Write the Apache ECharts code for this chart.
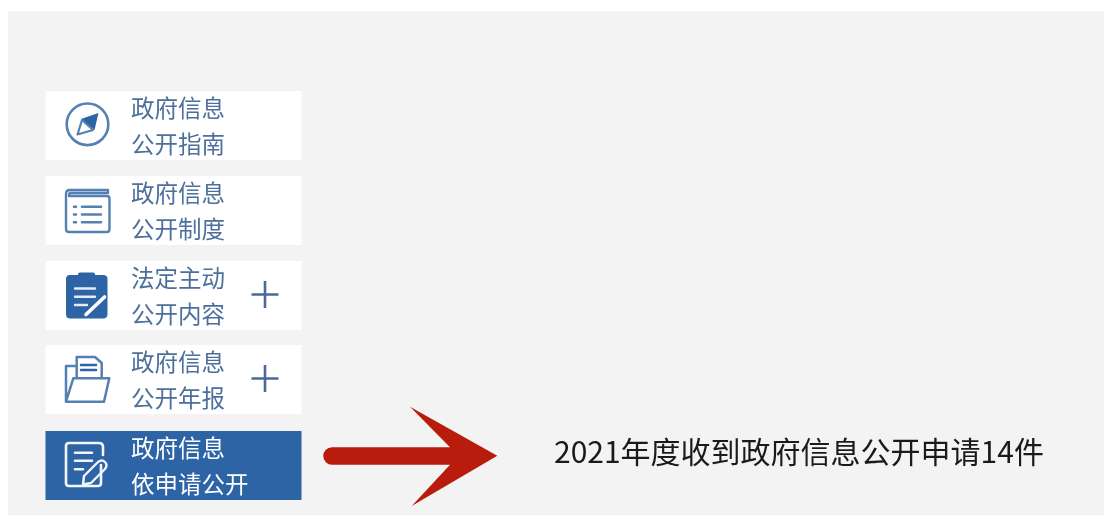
<!DOCTYPE html>
<html><head><meta charset="utf-8">
<style>html,body{margin:0;padding:0;background:#fff}#c{width:1104px;height:515px}</style>
<script src="https://cdn.jsdelivr.net/npm/echarts@6/dist/echarts.min.js"></script>
</head><body><div id="c"></div>
<script>
const line1 = ['政府信息','政府信息','法定主动','政府信息','政府信息'];
const line2 = ['公开指南','公开制度','公开内容','公开年报','依申请公开'];
const expandable = [false,false,true,true,false];
const activeIndex = 4;
const note = '2021年度收到政府信息公开申请14件';

const rowTops = [91,176,261,345,431];
const BLUE='#2c64a6', ICON='#5580b2', TXT='#4d6f9c', FONT='"Noto Sans CJK SC","Noto Sans",sans-serif';
const g=[];
let pathCount=0;
const st=(c,w)=>({fill:null,stroke:c,lineWidth:w||2,lineCap:'round',lineJoin:'round'});
const fl=c=>({fill:c,stroke:null});
const P=(d,style)=>{
  const name='sketchPath'+(pathCount++);
  echarts.graphic.registerShape(name,echarts.graphic.extendPath(d,{}));
  g.push({type:name,style});
};
g.push({type:'rect',shape:{x:8,y:11,width:1096,height:504},style:{fill:'#f3f3f3'}});
rowTops.forEach((t,i)=>{
  const on=i===activeIndex;
  g.push({type:'rect',shape:{x:45.5,y:t,width:256,height:69},style:{fill:on?BLUE:'#fff'}});
  g.push({type:'text',x:131,y:t+17.4,style:{text:line1[i],font:'23.5px '+FONT,fill:on?'#fff':TXT,textVerticalAlign:'middle'}});
  g.push({type:'text',x:131,y:t+52.6,style:{text:line2[i],font:'23.5px '+FONT,fill:on?'#fff':TXT,textVerticalAlign:'middle'}});
  if(expandable[i]){
    const cy=t+33.5;
    P(`M251.5 ${cy}H278.5M265 ${cy-13.5}V${cy+13.5}`,{fill:null,stroke:'#4a6a98',lineWidth:2.6});
  }
});
// compass
g.push({type:'circle',shape:{cx:87.5,cy:124.3,r:20.8},style:{fill:null,stroke:ICON,lineWidth:2.6}});
P('M98.5 113L94.5 130L81 119Z',fl(BLUE));
P('M82 120L77.5 134.5L93 130Z',st(ICON,2.2));
// window list
P('M66 194Q66 190 70 190H108V193H70Q69 193 69 196H107Q109.5 196 109.5 199V229Q109.5 232 107 232H69Q66 232 66 229Z',{fill:null,stroke:ICON,lineWidth:2.4,lineJoin:'round'});
P('M74 206.7H76M82 206.7H101M74 214.5H76M82 214.5H101M74 222.3H76M82 222.3H101',st(ICON,2.6));
// clipboard
P('M70 275H78V274Q78 272.5 80 272.5H93Q95 272.5 95 274V275H103Q107.5 275 107.5 279V314Q107.5 318.5 103 318.5H70Q66 318.5 66 314V279Q66 275 70 275Z',fl(BLUE));
P('M75 288.5H95M75 296.7H95M75 305H87',st('#e4ebf4',2.4));
P('M86 314.5L104.5 297',st('#fff',3.6));
// folder
P('M76.7 378V357H95L101.7 363V378',st(ICON,2.5));
P('M81 365H96M81 370H96',st(BLUE,2.6));
P('M66 401.7V366H76M66 401.7H104L109.3 378.3H73.3L66 401.7',st(ICON,2.5));
// application form
P('M101 465V483Q101 486 98 486H69Q66 486 66 483V446Q66 443 69 443H99Q103 443 103 447V455',st('#f2f5fa',2.6));
P('M75 452.7H92M75 460.7H92M75 469.3H83',st('#f2f5fa',2.6));
P('M84 476L98 462Q102 459 105 462Q108 465 105 469L91 483L83 484.5Z',st('#f2f5fa',2.4));
// arrow
P('M332 447.3H450L410 406.7L497.3 455.7L411.7 506L450 464.8H332A8.75 8.75 0 0 1 332 447.3Z',fl('#b81c0c'));
g.push({type:'text',x:554,y:452,style:{text:note,font:'30px '+FONT,fill:'#1a1a1a',textVerticalAlign:'middle'}});

const chart=echarts.init(document.getElementById('c'),null,{renderer:'canvas'});
chart.setOption({animation:false,backgroundColor:'#fff',graphic:{elements:g}});
</script></body></html>
